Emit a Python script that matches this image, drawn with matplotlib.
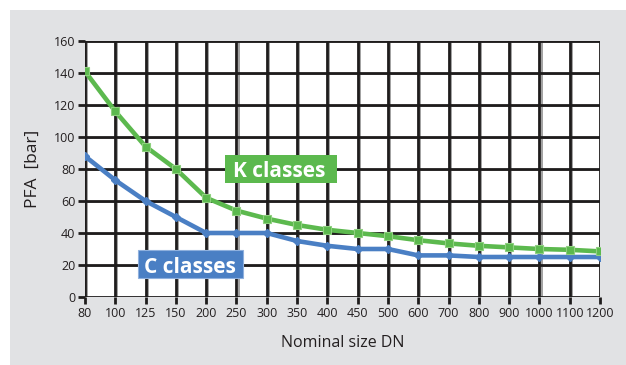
import matplotlib
matplotlib.use("Agg")
import matplotlib.pyplot as plt
from matplotlib.patches import Rectangle

sizes = ["80", "100", "125", "150", "200", "250", "300", "350", "400", "450",
         "500", "600", "700", "800", "900", "1000", "1100", "1200"]
k_classes = [141, 116, 94, 80, 62, 54, 49, 45, 42, 40, 38, 35.5, 33.5, 32, 31, 30, 29.5, 28.5]
c_classes = [88, 73, 60, 50, 40, 40, 40, 35, 32, 30, 30, 26, 26, 25, 25, 25, 25, 25]
y_ticks = [0, 20, 40, 60, 80, 100, 120, 140, 160]

GREEN = "#5cb94e"
BLUE = "#4a7fc4"
plt.rcParams["font.family"] = ["Open Sans", "DejaVu Sans"]

W, H = 626, 365
fig = plt.figure(figsize=(W / 100, H / 100), dpi=100, facecolor="white")
fig.patches.append(Rectangle((10 / W, 0), 1, (H - 10) / H, transform=fig.transFigure,
                             facecolor="#e1e2e4", edgecolor="none", zorder=-10))

ax = fig.add_axes([85 / W, 1 - 297 / H, (600 - 85) / W, (297 - 41) / H])
ax.set_facecolor("white")
x = list(range(len(sizes)))

# grid with a soft grey shadow like the original
for xi in x:
    ax.axvline(xi + 0.07, color="#9a9a9a", lw=1.3, zorder=1)
    ax.axvline(xi, color="#1e1c1c", lw=2.0, zorder=2)
for yv in y_ticks:
    ax.axhline(yv - 0.7, color="#9a9a9a", lw=1.3, zorder=1)
    ax.axhline(yv, color="#1e1c1c", lw=2.0, zorder=2)

ax.plot(x, c_classes, color=BLUE, lw=3.3, marker="D", ms=4, mfc=BLUE, mec=BLUE,
        zorder=4, solid_capstyle="round")
ax.plot(x, k_classes, color=GREEN, lw=3.3, marker="s", ms=6, mfc=GREEN,
        mec="#8fd07f", mew=0.8, zorder=5, solid_capstyle="round")

ax.set_xlim(0, len(sizes) - 1)
ax.set_ylim(0, 160)
ax.set_xticks(x)
ax.set_xticklabels(sizes)
ax.set_yticks(y_ticks)
for s in ax.spines.values():
    s.set_visible(False)
ax.tick_params(axis="both", length=5, width=2.0, color="#1e1c1c",
               labelsize=9, labelcolor="#231f20", pad=2)

ax.set_ylabel("PFA  [bar]", fontsize=12.5, color="#231f20", labelpad=9)
ax.set_xlabel("Nominal size DN", fontsize=11.5, color="#231f20", labelpad=11)

# series labels on coloured boxes
ax.add_patch(Rectangle((4.62, 71.3), 3.70, 17.5, facecolor=GREEN, edgecolor="none",
                       zorder=6, clip_on=False))
ax.text(4.90, 75.3, "K classes", color="white", fontsize=15, fontweight="bold",
        va="baseline", ha="left", zorder=7)
ax.add_patch(Rectangle((1.75, 11.9), 3.47, 17.5, facecolor=BLUE, edgecolor="#8fb0dd",
                       lw=0.8, zorder=6, clip_on=False))
ax.text(1.96, 15.3, "C classes", color="white", fontsize=15, fontweight="bold",
        va="baseline", ha="left", zorder=7)

fig.savefig("out.png", dpi=100, facecolor=fig.get_facecolor())
